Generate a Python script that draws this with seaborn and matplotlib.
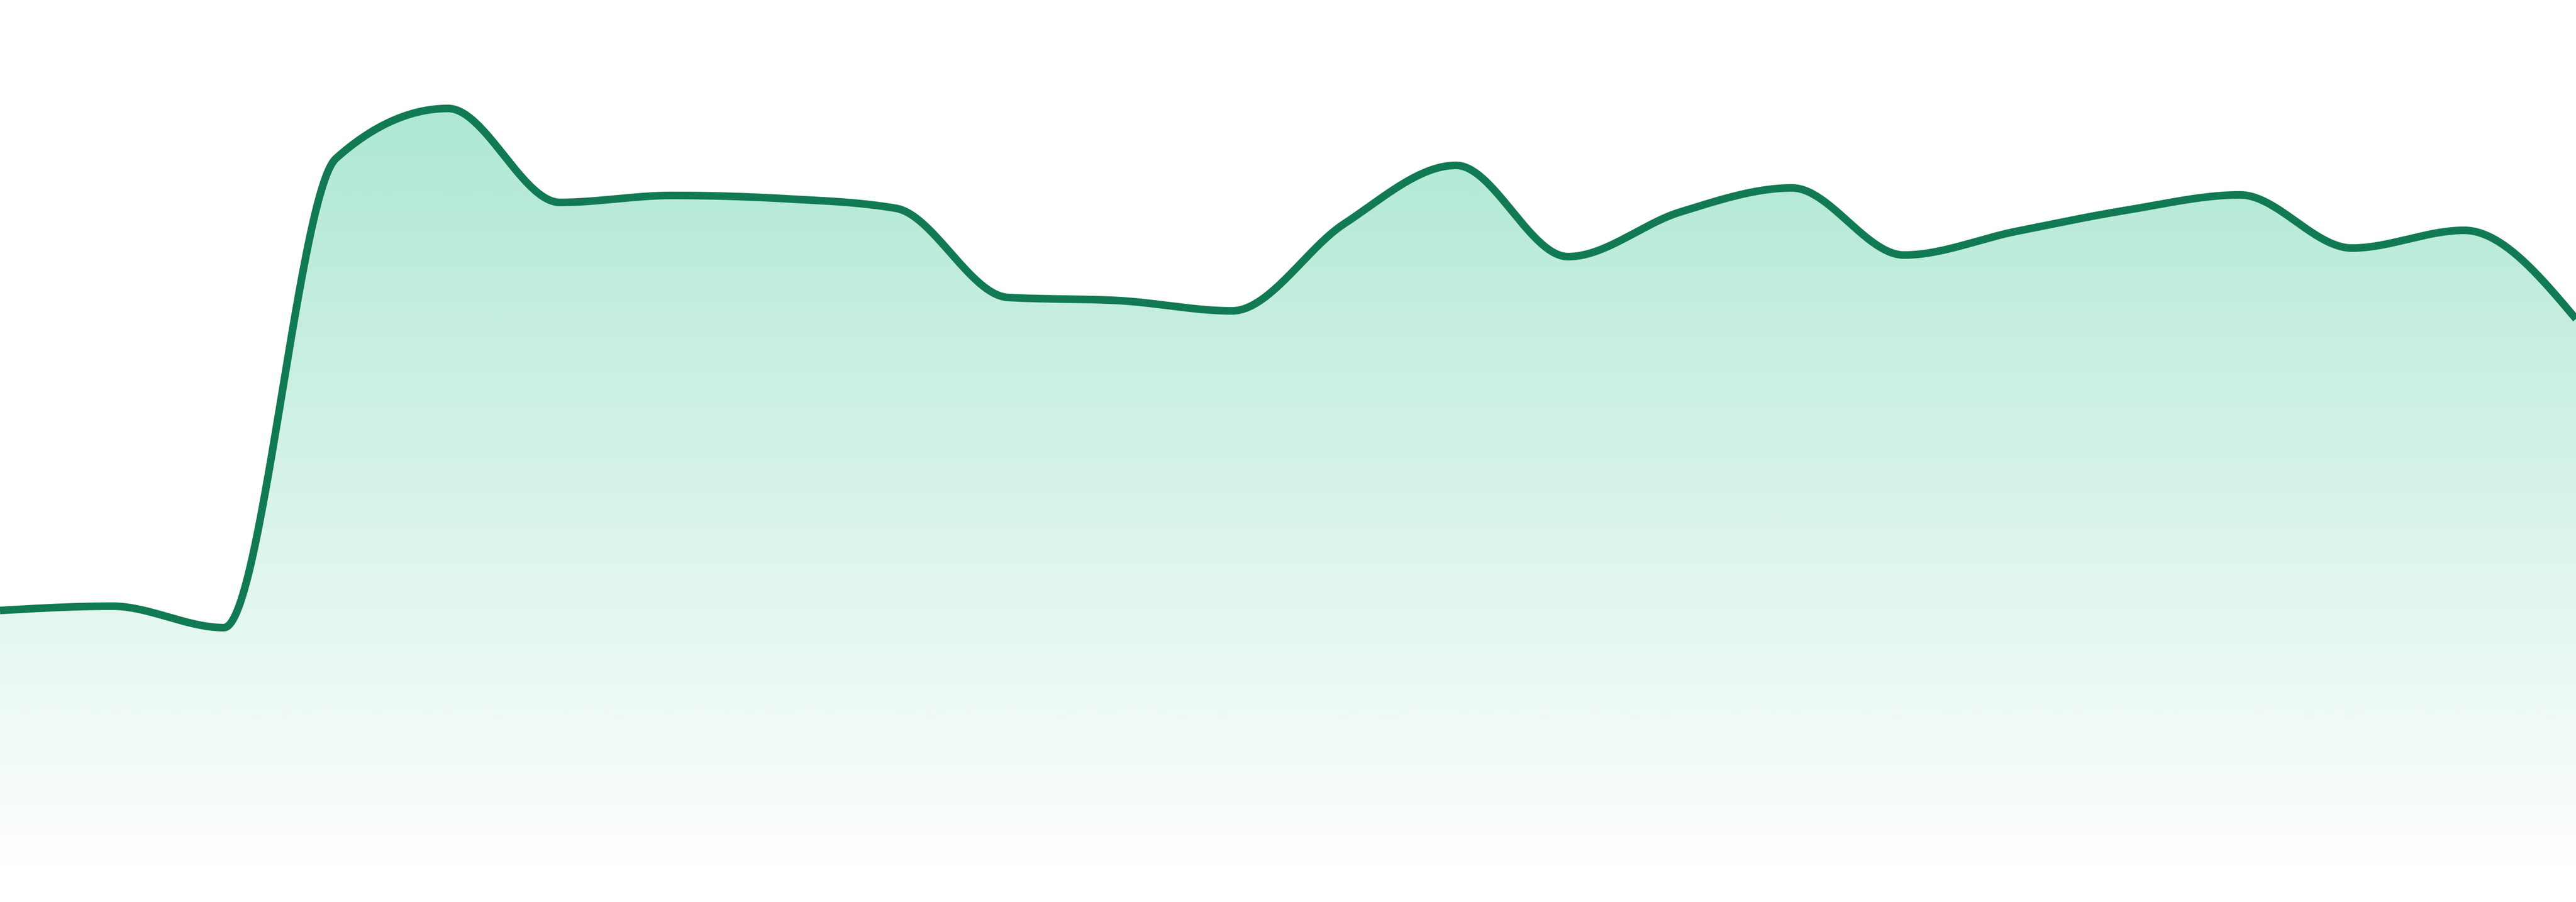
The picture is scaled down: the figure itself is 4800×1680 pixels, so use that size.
import numpy as np
import pandas as pd
import matplotlib
matplotlib.use("Agg")
import matplotlib.pyplot as plt
from matplotlib.patches import Polygon
from matplotlib.colors import LinearSegmentedColormap
import seaborn as sns

# ---- data ----
periods = list(range(24))
values = [49.5, 50.3, 46.3, 133.7, 143.0, 125.5, 126.8, 126.2, 124.4, 107.8,
          107.2, 105.3, 121.5, 132.4, 115.4, 123.7, 128.2, 115.7, 120.1, 124.1,
          126.9, 117.0, 120.3, 103.8]

LINE_COLOR = "#117a52"
FILL_RGB = (16 / 255, 185 / 255, 129 / 255)


def monotone_x(x, y, n_per_seg=60):
    """d3.curveMonotoneX style smoothing of the given points."""
    x = np.asarray(x, float)
    y = np.asarray(y, float)
    n = len(x)
    h = np.diff(x)
    s = np.diff(y) / h
    t = np.zeros(n)
    for i in range(1, n - 1):
        h0, h1 = h[i - 1], h[i]
        s0, s1 = s[i - 1], s[i]
        p = (s0 * h1 + s1 * h0) / (h0 + h1)
        t[i] = (np.sign(s0) + np.sign(s1)) * min(abs(s0), abs(s1), 0.5 * abs(p))
    t[0] = (3 * s[0] - t[1]) / 2
    t[-1] = (3 * s[-1] - t[-2]) / 2
    xs, ys = [], []
    u = np.linspace(0, 1, n_per_seg, endpoint=False)
    for i in range(n - 1):
        dx = h[i]
        p0 = (x[i], y[i])
        p1 = (x[i] + dx / 3, y[i] + dx * t[i] / 3)
        p2 = (x[i + 1] - dx / 3, y[i + 1] - dx * t[i + 1] / 3)
        p3 = (x[i + 1], y[i + 1])
        b0 = (1 - u) ** 3
        b1 = 3 * (1 - u) ** 2 * u
        b2 = 3 * (1 - u) * u ** 2
        b3 = u ** 3
        xs.append(b0 * p0[0] + b1 * p1[0] + b2 * p2[0] + b3 * p3[0])
        ys.append(b0 * p0[1] + b1 * p1[1] + b2 * p2[1] + b3 * p3[1])
    xs.append([x[-1]])
    ys.append([y[-1]])
    return np.concatenate(xs), np.concatenate(ys)


sns.set_theme(style="white")
fig = plt.figure(figsize=(16, 5.6), dpi=300)
ax = fig.add_axes([0, 0, 1, 1])
ax.set_xlim(0, len(periods) - 1)
ax.set_ylim(-4.8, 163.2)
ax.axis("off")

cx, cy = monotone_x(periods, values)
smooth = pd.DataFrame({"period": cx, "value": cy})

# gradient fill under the curve
top = max(values)
poly_xy = np.column_stack([np.r_[cx, cx[-1], cx[0]], np.r_[cy, 0, 0]])
poly = Polygon(poly_xy, closed=True, facecolor="none", edgecolor="none")
ax.add_patch(poly)
cmap = LinearSegmentedColormap.from_list(
    "fade", [(*FILL_RGB, 0.0), (*FILL_RGB, 0.34)])
grad = np.linspace(0, 1, 512).reshape(-1, 1)
img = ax.imshow(grad, cmap=cmap, aspect="auto", origin="lower",
                extent=[0, len(periods) - 1, 0, top], interpolation="bilinear",
                zorder=1)
img.set_clip_path(poly)

sns.lineplot(data=smooth, x="period", y="value", ax=ax, sort=False,
             estimator=None, color=LINE_COLOR, linewidth=3.4, zorder=3)
for line in ax.get_lines():
    line.set_solid_capstyle("butt")
    line.set_solid_joinstyle("round")

ax.set_xlim(0, len(periods) - 1)
ax.set_ylim(-4.8, 163.2)
fig.savefig("out.png", dpi=300, facecolor="white")
